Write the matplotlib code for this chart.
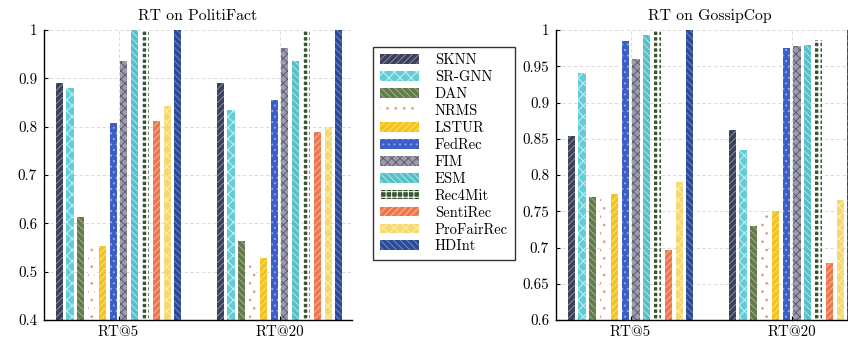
import numpy as np
import matplotlib
matplotlib.use("Agg")
import matplotlib.pyplot as plt

# ---------------------------------------------------------------
#  DATA
# ---------------------------------------------------------------
methods = ["SKNN", "SR-GNN", "DAN", "NRMS", "LSTUR", "FedRec", "FIM",
           "ESM", "Rec4Mit", "SentiRec", "ProFairRec", "HDInt"]
groups = ["RT@5", "RT@20"]

politi_rt5 = [0.890, 0.881, 0.614, 0.548, 0.553, 0.807, 0.936, 1.000, 1.000, 0.812, 0.843, 1.000]
politi_rt20 = [0.890, 0.834, 0.564, 0.520, 0.528, 0.855, 0.962, 0.936, 1.000, 0.788, 0.800, 1.000]
gossip_rt5 = [0.854, 0.941, 0.769, 0.767, 0.774, 0.985, 0.960, 0.993, 1.000, 0.697, 0.790, 1.000]
gossip_rt20 = [0.862, 0.835, 0.730, 0.748, 0.750, 0.975, 0.978, 0.980, 0.986, 0.679, 0.765, 1.000]

politi_ticks = [0.4, 0.5, 0.6, 0.7, 0.8, 0.9, 1.0]
politi_ticklabels = ["0.4", "0.5", "0.6", "0.7", "0.8", "0.9", "1"]
gossip_ticks = [0.6, 0.65, 0.7, 0.75, 0.8, 0.85, 0.9, 0.95, 1.0]
gossip_ticklabels = ["0.6", "0.65", "0.7", "0.75", "0.8", "0.85", "0.9", "0.95", "1"]

# face colour, hatch colour, hatch pattern
styles = [
    ("#3c4059", "#868ca6", "/////"),
    ("#63cdd7", "#c8f0f2", "xxx"),
    ("#627a4c", "#a3b28a", "\\\\\\\\\\"),
    ("#ffffff", "#e39a7c", ".."),
    ("#f4c320", "#fae27a", "/////"),
    ("#3d5ec6", "#93a8ea", "..."),
    ("#9c9cac", "#5c5c6c", "xxxx"),
    ("#57bfc8", "#b2e6ea", "\\\\\\\\\\"),
    ("#3a5630", "#ffffff", "+++"),
    ("#ee764c", "#f8b898", "/////"),
    ("#f6d870", "#fcefb8", "xxx"),
    ("#2b4b99", "#6d8acb", "\\\\\\\\\\"),
]

# ---------------------------------------------------------------
#  PLOT
# ---------------------------------------------------------------
plt.rcParams['font.family'] = ['cmr10', 'DejaVu Serif']
plt.rcParams['mathtext.fontset'] = 'cm'
plt.rcParams['hatch.linewidth'] = 0.7
plt.rcParams['axes.unicode_minus'] = False

fig = plt.figure(figsize=(8.48, 3.43), dpi=100)
ax1 = fig.add_axes([0.0519, 0.067, 0.3632, 0.8455])
ax2 = fig.add_axes([0.6557, 0.067, 0.3632, 0.8455])

x = np.arange(1, len(groups) + 1)
slot = 0.067
width = 0.044


def draw(ax, rt5, rt20, ticks, ticklabels, ylim, title):
    vals = np.array([rt5, rt20])
    for i, m in enumerate(methods):
        face, hcol, hatch = styles[i]
        hlw = 1.5 if m == "Rec4Mit" else 0.7
        with plt.rc_context({'hatch.linewidth': hlw}):
            ax.bar(x + (i - 5.5) * slot, vals[:, i], width, bottom=0,
                   color=face, edgecolor=hcol, hatch=hatch, lw=0, label=m, zorder=2)
    ax.set_xlim(0.537, 2.45)
    ax.set_ylim(*ylim)
    ax.set_yticks(ticks)
    ax.set_yticklabels(ticklabels)
    ax.set_xticks(x)
    ax.set_xticklabels(groups)
    ax.tick_params(direction='in', length=3, width=0.8, labelsize=10.8, pad=4)
    ax.tick_params(axis='y', pad=5)
    for s in ['top', 'right']:
        ax.spines[s].set_visible(False)
    for s in ['left', 'bottom']:
        ax.spines[s].set_linewidth(1.0)
    ax.grid(True, ls=(0, (4, 3)), color='#d4d4d4', lw=0.6)
    ax.set_axisbelow(True)
    ax.set_title(title, fontsize=11.3, pad=7)


draw(ax1, politi_rt5, politi_rt20, politi_ticks, politi_ticklabels, (0.4, 1.0), "RT on PolitiFact")
draw(ax2, gossip_rt5, gossip_rt20, gossip_ticks, gossip_ticklabels, (0.6, 1.0), "RT on GossipCop")

handles, labels = ax1.get_legend_handles_labels()
leg = fig.legend(handles, labels, loc='upper left', bbox_to_anchor=(373 / 848, 1 - 47 / 343),
                 fontsize=10.5, frameon=True, fancybox=False, edgecolor='black',
                 handlelength=2.7, handleheight=0.65, labelspacing=0.22,
                 handletextpad=1.1, borderpad=0.45, borderaxespad=0)
leg.get_frame().set_linewidth(1.0)

plt.savefig("out.png", dpi=100)
